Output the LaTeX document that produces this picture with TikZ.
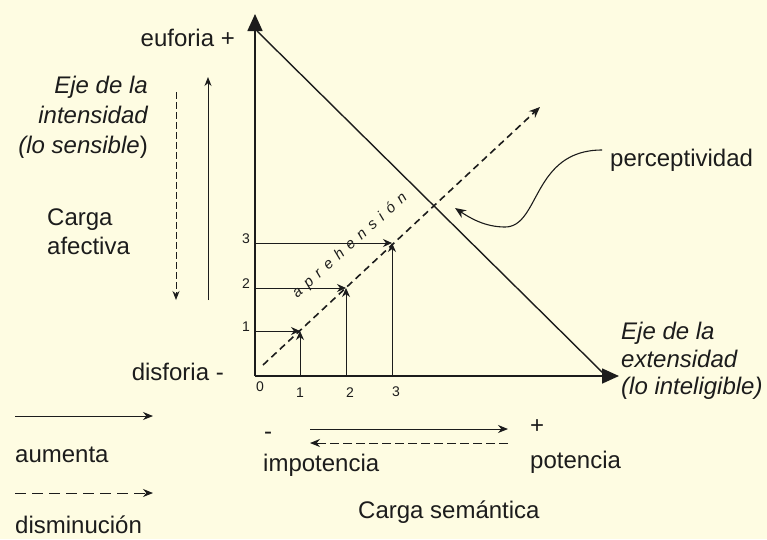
\documentclass[tikz,border=0pt]{standalone}
\usepackage{fontspec}
\setmainfont{Liberation Sans}
\usetikzlibrary{arrows.meta}
\definecolor{bg}{RGB}{254,252,226}
\definecolor{ink}{RGB}{28,28,28}
\newcommand\lsp{\hspace{6.6pt}}
\begin{document}
\begin{tikzpicture}[x=1pt,y=-1pt,
  every node/.style={text=ink, inner sep=0pt},
  lbl/.style={font=\fontsize{24}{29}\selectfont},
  ital/.style={font=\fontsize{24}{30}\selectfont\itshape},
  italr/.style={font=\fontsize{24}{27.5}\selectfont\itshape},
  tick/.style={font=\fontsize{14}{16}\selectfont},
  apre/.style={font=\fontsize{15}{17}\selectfont\itshape, rotate=42},
  axis/.style={draw=ink, line width=1.6pt, -{Triangle[length=17pt,width=15pt]}},
  thin/.style={draw=ink, line width=0.8pt},
  gridarrow/.style={thin, -{Stealth[length=9pt,width=8pt]}},
  solidarrow/.style={draw=ink, line width=1pt, -{Stealth[length=10pt,width=8pt]}},
  mainDash/.style={draw=ink, line width=1.6pt, dash pattern=on 7pt off 4.5pt, -{Stealth[length=11pt,width=9pt]}}
]
\fill[bg] (0,0) rectangle (767,539);
\useasboundingbox (0,0) rectangle (767,539);

% coordinates
\coordinate (O) at (255,376);
\coordinate (Ytop) at (255,14);
\coordinate (Xend) at (619,376);
\coordinate (Dstart) at (257,31);
\coordinate (Dend) at (603,373);
\coordinate (Astart) at (263,365);
\coordinate (Aend) at (540,107);
\coordinate (P1) at (300,331);
\coordinate (P2) at (346,288);
\coordinate (P3) at (392,243);
\coordinate (B1) at (300,376);
\coordinate (B2) at (346,376);
\coordinate (B3) at (392,376);
\coordinate (L1) at (255,331);
\coordinate (L2) at (255,288);
\coordinate (L3) at (255,243);

% axes
\draw[axis] (O) -- (Ytop);
\draw[axis] (O) -- (Xend);
\draw[draw=ink, line width=1.4pt] (Dstart) -- (Dend);

% grid arrows
\draw[gridarrow] (B1) -- (P1);
\draw[gridarrow] (L1) -- (P1);
\draw[gridarrow] (B2) -- (P2);
\draw[gridarrow] (L2) -- (P2);
\draw[gridarrow] (B3) -- (P3);
\draw[gridarrow] (L3) -- (P3);

% aprehension dashed arrow
\draw[mainDash] (Astart) -- (Aend);

% aprehension label
\node[apre] (apre) at (350,246) {a\lsp p\lsp r\lsp e\lsp h\lsp e\lsp n\lsp s\lsp i\lsp ó\lsp n};

% tick labels
\node[tick] (t0) at (260,387) {0};
\node[tick] (t1) at (300,393) {1};
\node[tick] (t2) at (350,393) {2};
\node[tick] (t3) at (396,392) {3};
\node[tick, anchor=east] (s1) at (250,327) {1};
\node[tick, anchor=east] (s2) at (250,284) {2};
\node[tick, anchor=east] (s3) at (250,239) {3};

% top / left labels
\node[lbl, anchor=east] (euf) at (235,38) {euforia +};
\node[lbl, anchor=east] (disf) at (224,372) {disforia -};
\node[ital, align=right, anchor=east] (ejeI) at (148,117) {Eje de la\\intensidad\\(lo sensible\upshape)};
\node[lbl, align=left, anchor=west] (carA) at (47,232) {Carga\\afectiva};
\coordinate (vd1) at (176,92);
\coordinate (vd2) at (176,300);
\coordinate (vs1) at (208,300);
\coordinate (vs2) at (208,77);
\draw[draw=ink, line width=1pt, dash pattern=on 7pt off 3pt, -{Stealth[length=9pt,width=7pt]}] (vd1) -- (vd2);
\draw[draw=ink, line width=1pt, -{Stealth[length=9pt,width=7pt]}] (vs1) -- (vs2);

% right labels
\node[lbl, anchor=west] (perc) at (610,160) {perceptividad};
\node[italr, align=left, anchor=west] (ejeE) at (621,361) {Eje de la\\extensidad\\(lo inteligible)};
\coordinate (cs) at (602,150);
\coordinate (ce) at (455,208);
\draw[draw=ink, line width=1.1pt, -{Stealth[length=11pt,width=9pt]}]
  (cs) .. controls (532,150) and (540,227) .. (505,227)
       .. controls (485,227) and (470,218) .. (ce);

% bottom middle
\node[lbl] (minus) at (268,436) {-};
\node[lbl] (plus) at (537,427) {+};
\coordinate (ba1) at (310,429);
\coordinate (ba2) at (508,429);
\coordinate (bd1) at (508,443);
\coordinate (bd2) at (310,443);
\draw[solidarrow] (ba1) -- (ba2);
\draw[draw=ink, line width=1pt, dash pattern=on 9pt off 4pt, -{Stealth[length=10pt,width=8pt]}] (bd1) -- (bd2);
\node[lbl, anchor=west] (impot) at (263,465) {impotencia};
\node[lbl, anchor=west] (pot) at (530,462) {potencia};
\node[lbl, anchor=west] (cs2) at (358,512) {Carga semántica};

% legend
\coordinate (la1) at (15,416);
\coordinate (la2) at (153,416);
\coordinate (ld1) at (15,493);
\coordinate (ld2) at (153,493);
\draw[solidarrow] (la1) -- (la2);
\draw[draw=ink, line width=1pt, dash pattern=on 11pt off 6pt, -{Stealth[length=10pt,width=8pt]}] (ld1) -- (ld2);
\node[lbl, anchor=west] (aum) at (15,455) {aumenta};
\node[lbl, anchor=west] (dism) at (15,525) {disminución};
\end{tikzpicture}
\end{document}
